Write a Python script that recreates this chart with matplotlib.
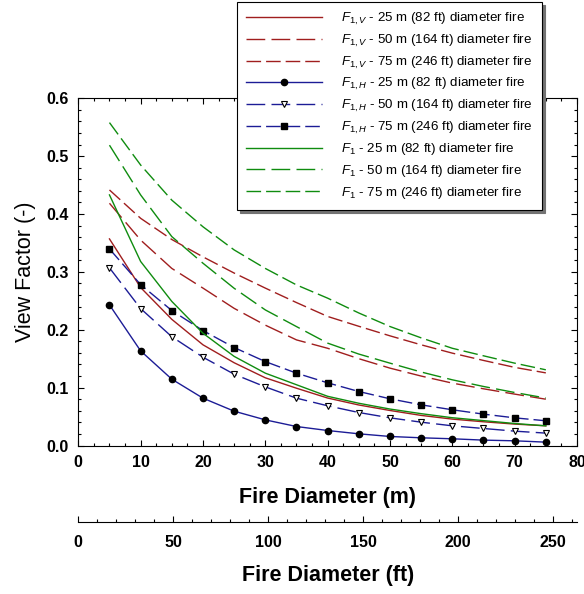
import numpy as np
import matplotlib
matplotlib.use("Agg")
import matplotlib.pyplot as plt
from matplotlib.ticker import MultipleLocator, FixedLocator

plt.rcParams['font.family'] = ['Liberation Sans', 'DejaVu Sans']
plt.rcParams['mathtext.fontset'] = 'custom'
plt.rcParams['mathtext.rm'] = 'Liberation Sans'
plt.rcParams['mathtext.it'] = 'Liberation Sans:italic'

# fire diameter (m)
x = [5, 10, 15, 20, 25, 30, 35, 40, 45, 50, 55, 60, 65, 70, 75]

# F1,V (vertical) view factors
f1v_25 = [0.357, 0.273, 0.218, 0.174, 0.143, 0.117, 0.099, 0.082, 0.070, 0.0605, 0.052, 0.0456, 0.041, 0.037, 0.034]
f1v_50 = [0.4186, 0.355, 0.306, 0.272, 0.237, 0.208, 0.1825, 0.168, 0.150, 0.1337, 0.120, 0.1078, 0.098, 0.0888, 0.080]
f1v_75 = [0.4416, 0.3926, 0.356, 0.326, 0.298, 0.272, 0.247, 0.223, 0.206, 0.1895, 0.174, 0.1596, 0.147, 0.135, 0.1255]

# F1,H (horizontal) view factors
f1h_25 = [0.243, 0.1635, 0.1146, 0.0818, 0.0593, 0.0443, 0.0328, 0.0259, 0.0202, 0.0156, 0.0133, 0.0116, 0.0093, 0.0081, 0.0058]
f1h_50 = [0.307, 0.2366, 0.188, 0.1526, 0.1232, 0.1013, 0.0818, 0.0686, 0.057, 0.0478, 0.0403, 0.034, 0.0294, 0.0248, 0.0214]
f1h_75 = [0.3397, 0.278, 0.2332, 0.1986, 0.1693, 0.145, 0.125, 0.1083, 0.0933, 0.0807, 0.0703, 0.0617, 0.0542, 0.0478, 0.0427]

# F1 (maximum) view factors
f1_25 = [0.433, 0.318, 0.249, 0.194, 0.154, 0.125, 0.105, 0.085, 0.073, 0.063, 0.055, 0.048, 0.043, 0.038, 0.034]
f1_50 = [0.519, 0.433, 0.361, 0.315, 0.2717, 0.2343, 0.2055, 0.1769, 0.158, 0.1423, 0.127, 0.1135, 0.102, 0.0916, 0.082]
f1_75 = [0.558, 0.4847, 0.424, 0.378, 0.338, 0.306, 0.2775, 0.2546, 0.229, 0.2056, 0.186, 0.168, 0.155, 0.1423, 0.1308]

labels_d = ['25 m (82 ft)', '50 m (164 ft)', '75 m (246 ft)']
ft_ticks = [0, 50, 100, 150, 200, 250]

red = '#A01E1E'
blue = '#1C1C96'
green = '#0F8C0F'
dash50 = (0, (13.5, 4.5))
dash75 = (0, (10.5, 3.6))

fig = plt.figure(figsize=(5.84, 5.94), dpi=100)
ax = fig.add_axes([78.3 / 584, 1 - 445.5 / 594, (577 - 78.3) / 584, (445.5 - 98.3) / 594])

lw = 1.0
ax.plot(x, f1v_25, color=red, lw=lw, label=r'$F_{1,V}$ - ' + labels_d[0] + ' diameter fire')
ax.plot(x, f1v_50, color=red, lw=lw, ls=dash50, label=r'$F_{1,V}$ - ' + labels_d[1] + ' diameter fire')
ax.plot(x, f1v_75, color=red, lw=lw, ls=dash75, label=r'$F_{1,V}$ - ' + labels_d[2] + ' diameter fire')
ax.plot(x, f1h_25, color=blue, lw=lw, marker='o', ms=4.5, mfc='black', mec='black',
        label=r'$F_{1,H}$ - ' + labels_d[0] + ' diameter fire')
ax.plot(x, f1h_50, color=blue, lw=lw, ls=dash50, marker='v', ms=5, mfc='white', mec='black', mew=0.8,
        label=r'$F_{1,H}$ - ' + labels_d[1] + ' diameter fire')
ax.plot(x, f1h_75, color=blue, lw=lw, ls=dash75, marker='s', ms=4.2, mfc='black', mec='black',
        label=r'$F_{1,H}$ - ' + labels_d[2] + ' diameter fire')
ax.plot(x, f1_25, color=green, lw=lw, label=r'$F_{1}$ - ' + labels_d[0] + ' diameter fire')
ax.plot(x, f1_50, color=green, lw=lw, ls=dash50, label=r'$F_{1}$ - ' + labels_d[1] + ' diameter fire')
ax.plot(x, f1_75, color=green, lw=lw, ls=dash75, label=r'$F_{1}$ - ' + labels_d[2] + ' diameter fire')

ax.set_xlim(0, 80)
ax.set_ylim(0, 0.6)
ax.xaxis.set_major_locator(MultipleLocator(10))
ax.xaxis.set_minor_locator(MultipleLocator(2.5))
ax.yaxis.set_major_locator(MultipleLocator(0.1))
ax.yaxis.set_minor_locator(MultipleLocator(0.02))
ax.yaxis.set_major_formatter(matplotlib.ticker.FormatStrFormatter('%.1f'))
ax.tick_params(which='both', direction='in', top=True, right=True, width=0.8)
ax.tick_params(which='major', length=4.5, labelsize=11.5, pad=7)
ax.tick_params(which='minor', length=2.5)
for lab in ax.get_xticklabels() + ax.get_yticklabels():
    lab.set_fontweight('bold')
for sp in ax.spines.values():
    sp.set_linewidth(0.8)

ax.set_xlabel('Fire Diameter (m)', fontsize=15.5, fontweight='bold', labelpad=12)
ax.set_ylabel('View Factor (-)', fontsize=15.5, labelpad=7)

# secondary axis in feet
m2ft = 3.28084
sec = ax.secondary_xaxis(-(522.3 - 445.5) / (445.5 - 98.3),
                         functions=(lambda v: v * m2ft, lambda v: v / m2ft))
sec.xaxis.set_major_locator(FixedLocator(ft_ticks))
sec.xaxis.set_minor_locator(MultipleLocator(10))
sec.tick_params(which='both', direction='in', width=0.8)
sec.tick_params(which='major', length=4.5, labelsize=11.5, pad=9)
sec.tick_params(which='minor', length=2.5)
sec.spines['bottom'].set_linewidth(0.8)
for lab in sec.get_xticklabels():
    lab.set_fontweight('bold')
sec.set_xlabel('Fire Diameter (ft)', fontsize=15.5, fontweight='bold', labelpad=11)

leg = ax.legend(loc='upper left', bbox_to_anchor=(237 / 584, 1 - 2 / 594),
                bbox_transform=fig.transFigure, fontsize=9.6, frameon=True, fancybox=False,
                shadow={'color': '0.45', 'alpha': 1}, handlelength=5.7, handletextpad=1.4,
                labelspacing=0.42, borderpad=0.7, borderaxespad=0)
leg.get_frame().set_edgecolor('black')
leg.get_frame().set_linewidth(0.8)
leg.get_frame().set_alpha(1)

fig.savefig('out.png', dpi=100)
